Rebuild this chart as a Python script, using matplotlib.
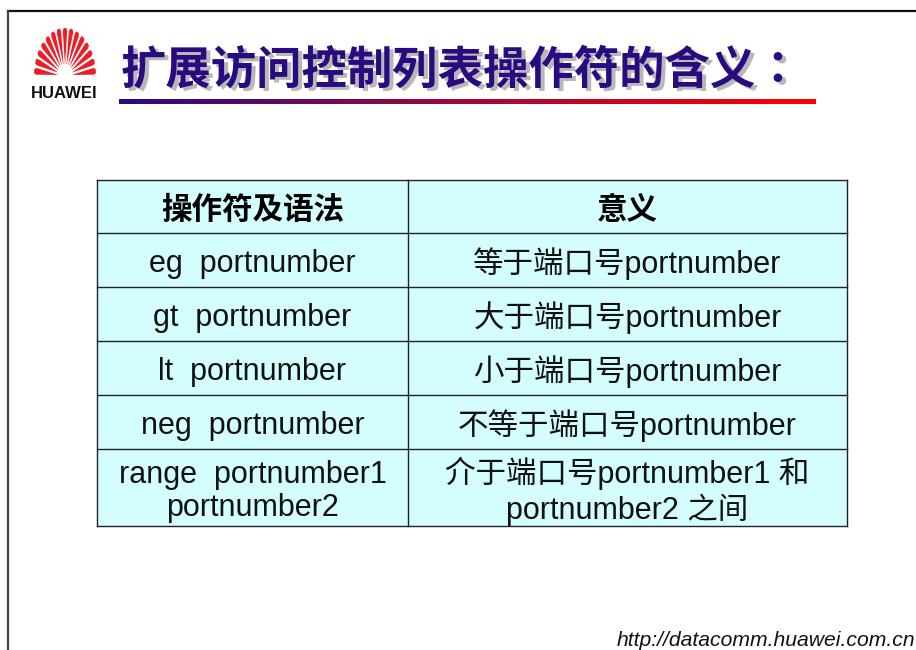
import numpy as np
import matplotlib.pyplot as plt
from matplotlib.colors import LinearSegmentedColormap
from matplotlib.patches import Rectangle, Polygon

plt.rcParams['font.family'] = ['Liberation Sans', 'Noto Sans CJK SC', 'DejaVu Sans']

title = '扩展访问控制列表操作符的含义：'
headers = ['操作符及语法', '意义']
syntax = ['eg  portnumber', 'gt  portnumber', 'lt  portnumber',
          'neg  portnumber', 'range  portnumber1\nportnumber2']
meaning = ['等于端口号portnumber', '大于端口号portnumber', '小于端口号portnumber',
           '不等于端口号portnumber', '介于端口号portnumber1 和\nportnumber2 之间']
footer = 'http://datacomm.huawei.com.cn'

W, H = 916, 650
fig = plt.figure(figsize=(W / 100, H / 100), dpi=100)
ax = fig.add_axes([0, 0, 1, 1])
ax.set_xlim(0, W)
ax.set_ylim(H, 0)
ax.axis('off')

# slide frame
ax.plot([8, W], [11, 11], color='#111111', lw=1.6)
ax.plot([8, 8], [11, H], color='#444444', lw=1.6)

# logo: fan of petals
cx, cy = 65, 76
n = 15
for i in range(n):
    a = np.deg2rad(180 - (i + 0.5) * 180 / n)
    rx, ry = 31, 48
    r0 = 0.25
    w = np.deg2rad(4.3)
    pts = []
    for aa, rr in [(a - w * 0.2, r0), (a - w, 0.93), (a - w * 0.6, 1.0),
                   (a + w * 0.6, 1.0), (a + w, 0.93), (a + w * 0.2, r0)]:
        pts.append((cx + rx * rr * np.cos(aa), cy - ry * rr * np.sin(aa)))
    ax.add_patch(Polygon(pts, closed=True, color='#EE1C25', lw=0))
ax.text(64, 94, 'HUAWEI', ha='center', va='center', fontsize=12,
        fontweight='bold', color='#111111')

# title with shadow
tfam = ['Noto Sans CJK TC', 'DejaVu Sans']
ax.text(125, 73, title, ha='left', va='center', fontsize=32.7, fontweight='bold',
        color='#B8B8B8', family=tfam)
ax.text(121, 70, title, ha='left', va='center', fontsize=32.7, fontweight='bold',
        color='#2A0A80', family=tfam)

# gradient underline
cmap = LinearSegmentedColormap.from_list('ul', ['#2A0A80', '#A0083A', '#FF0000'])
ax.imshow(np.linspace(0, 1, 256)[None, :], cmap=cmap, aspect='auto',
          extent=[119, 816, 104, 99], zorder=2)

# table
x0, xm, x1 = 97, 408, 847
ys = [180, 233, 287, 341, 395, 449, 526]
ax.add_patch(Rectangle((x0, ys[0]), x1 - x0, ys[-1] - ys[0],
                       facecolor='#D4FEFE', edgecolor='none'))
for y in ys:
    ax.plot([x0, x1], [y, y], color='#222222', lw=1)
for x in [x0, xm, x1]:
    ax.plot([x, x], [ys[0], ys[-1]], color='#222222', lw=1)

fs = 22
dy = 4
ax.text((x0 + xm) / 2, (ys[0] + ys[1]) / 2 + 3, headers[0], ha='center', va='center',
        fontsize=fs, fontweight='bold', family=['Noto Sans CJK SC'])
ax.text((xm + x1) / 2, (ys[0] + ys[1]) / 2 + 3, headers[1], ha='center', va='center',
        fontsize=fs, fontweight='bold', family=['Noto Sans CJK SC'])
for i in range(len(syntax)):
    yc = (ys[i + 1] + ys[i + 2]) / 2 + dy
    ax.text((x0 + xm) / 2, yc, syntax[i], ha='center', va='center',
            fontsize=fs, color='#111111', linespacing=1.12)
    ax.text((xm + x1) / 2, yc, meaning[i], ha='center', va='center',
            fontsize=fs, color='#111111', linespacing=1.12)

ax.text(915, 641, footer, ha='right', va='center', fontsize=15.2,
        style='italic', color='#111111')

fig.savefig('out.png', dpi=100)
